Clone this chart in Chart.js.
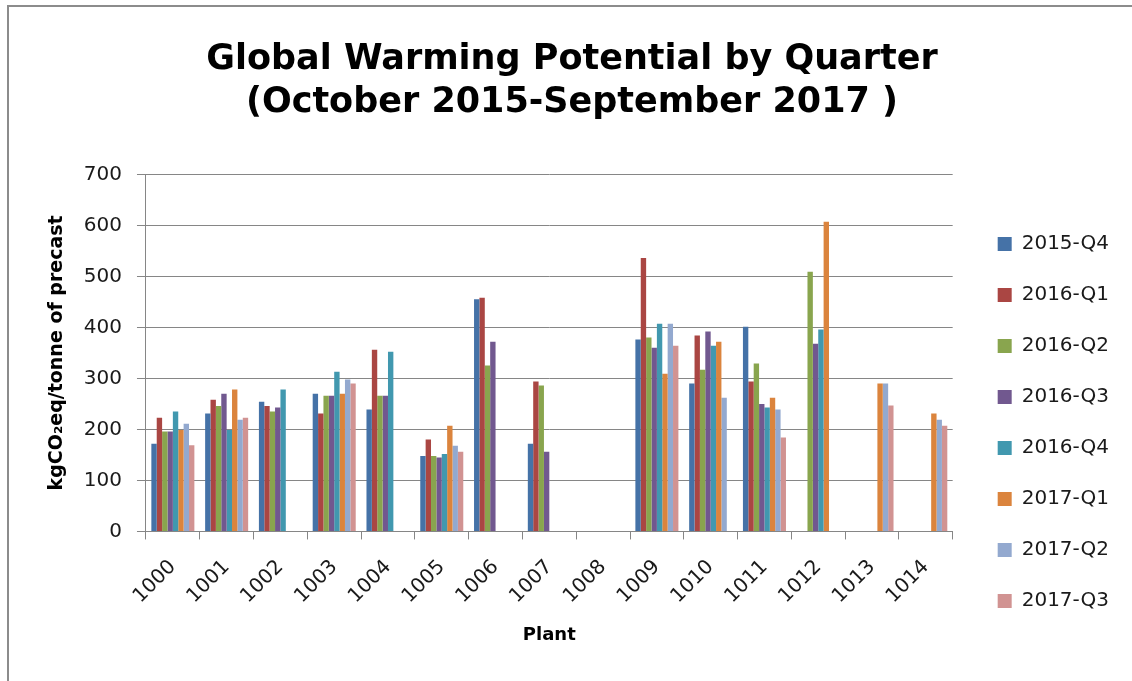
<!DOCTYPE html>
<html>
<head>
<meta charset="utf-8">
<title>Global Warming Potential by Quarter</title>
<script src="https://cdn.jsdelivr.net/npm/chart.js@4"></script>
<style>
  html, body { margin: 0; padding: 0; background: #fff; }
  #wrap { position: relative; width: 1132px; height: 681px; overflow: hidden; }
  #frame { position: absolute; left: 7px; top: 5px; width: 1200px; height: 800px;
           border-left: 2px solid #8c8c8c; border-top: 2px solid #8c8c8c; pointer-events: none; }
</style>
</head>
<body>
<div id="wrap">
  <canvas id="chart" width="1132" height="681"></canvas>
  <div id="frame"></div>
</div>
<script>
// Plants on the x axis
const plants = ['1000', '1001', '1002', '1003', '1004', '1005', '1006', '1007',
                '1008', '1009', '1010', '1011', '1012', '1013', '1014'];

// kgCO2eq per tonne of precast, one array per quarter (null = no data)
const q2015Q4 = [172, 231, 254, 270, 239, 148, 455, 172, null, 376, 290, 401, null, null, null];
const q2016Q1 = [223, 258, 246, 231, 356, 180, 458, 294, null, 536, 384, 294, null, null, null];
const q2016Q2 = [196, 246, 235, 266, 266, 148, 325, 286, null, 380, 317, 329, 509, null, null];
const q2016Q3 = [196, 270, 243, 266, 266, 145, 372, 156, null, 360, 392, 250, 368, null, null];
const q2016Q4 = [235, 199, 278, 313, 352, 152, null, null, null, 407, 364, 243, 396, null, null];
const q2017Q1 = [199, 278, null, 270, null, 207, null, null, null, 309, 372, 262, 607, 290, 231];
const q2017Q2 = [211, 219, null, 298, null, 168, null, null, null, 407, 262, 239, null, 290, 219];
const q2017Q3 = [169, 223, null, 290, null, 156, null, null, null, 364, null, 184, null, 247, 207];

const quarterNames = ['2015-Q4', '2016-Q1', '2016-Q2', '2016-Q3', '2016-Q4', '2017-Q1', '2017-Q2', '2017-Q3'];
const quarterValues = [q2015Q4, q2016Q1, q2016Q2, q2016Q3, q2016Q4, q2017Q1, q2017Q2, q2017Q3];
const quarterColors = ['#4572A7', '#AA4643', '#89A54E', '#71588F', '#4198AF', '#DB843D', '#93A9CF', '#D19392'];

const yTicks = { min: 0, max: 700, step: 100 };

const GRID = '#868686';
const TEXT = '#1a1a1a';
const FONT = 'DejaVu Sans';

// Nudges the legend block into place beside the plot
const legendNudge = {
  id: 'legendNudge',
  afterLayout(chart) {
    const lg = chart.legend;
    if (!lg) return;
    lg.left += 14; lg.right += 14;
    lg.top += 82; lg.bottom += 82;
  }
};

new Chart(document.getElementById('chart'), {
  type: 'bar',
  data: {
    labels: plants,
    datasets: quarterNames.map((name, i) => ({
      label: name,
      data: quarterValues[i],
      backgroundColor: quarterColors[i],
      borderWidth: 0,
      categoryPercentage: 0.8,
      barPercentage: 1.0
    }))
  },
  options: {
    responsive: false,
    devicePixelRatio: 1,
    animation: false,
    layout: { padding: { left: 39, right: 27, top: 0, bottom: 0 } },
    plugins: {
      title: {
        display: true,
        text: ['Global Warming Potential by Quarter', '(October 2015-September 2017 )'],
        color: '#000',
        font: { family: FONT, size: 35, weight: 'bold', lineHeight: 1.24 },
        padding: { top: 38, bottom: 49.5 }
      },
      legend: {
        position: 'right',
        align: 'center',
        labels: {
          boxWidth: 14,
          boxHeight: 14,
          padding: 31,
          color: TEXT,
          font: { family: FONT, size: 20 }
        }
      },
      tooltip: { enabled: false }
    },
    scales: {
      x: {
        grid: {
          display: true,
          drawOnChartArea: false,
          drawTicks: true,
          tickLength: 8,
          color: GRID,
          offset: true
        },
        border: { display: true, color: GRID, width: 1 },
        ticks: {
          autoSkip: false,
          minRotation: 45,
          maxRotation: 45,
          padding: 16,
          color: TEXT,
          font: { family: FONT, size: 20 }
        },
        title: {
          display: true,
          text: 'Plant',
          color: '#000',
          font: { family: FONT, size: 18, weight: 'bold', lineHeight: 1.2 },
          padding: { top: 0, bottom: 35 }
        }
      },
      y: {
        min: yTicks.min,
        max: yTicks.max,
        grid: {
          color: GRID,
          lineWidth: 1,
          drawTicks: true,
          tickLength: 9
        },
        border: { display: true, color: GRID, width: 1 },
        ticks: {
          stepSize: yTicks.step,
          padding: 15,
          color: TEXT,
          font: { family: FONT, size: 20 }
        },
        title: {
          display: true,
          text: 'kgCO₂eq/tonne of precast',
          color: '#000',
          font: { family: FONT, size: 19, weight: 'bold', lineHeight: 1.2 },
          padding: { top: 6.6, bottom: 0.4 }
        }
      }
    }
  },
  plugins: [legendNudge]
});
</script>
</body>
</html>
